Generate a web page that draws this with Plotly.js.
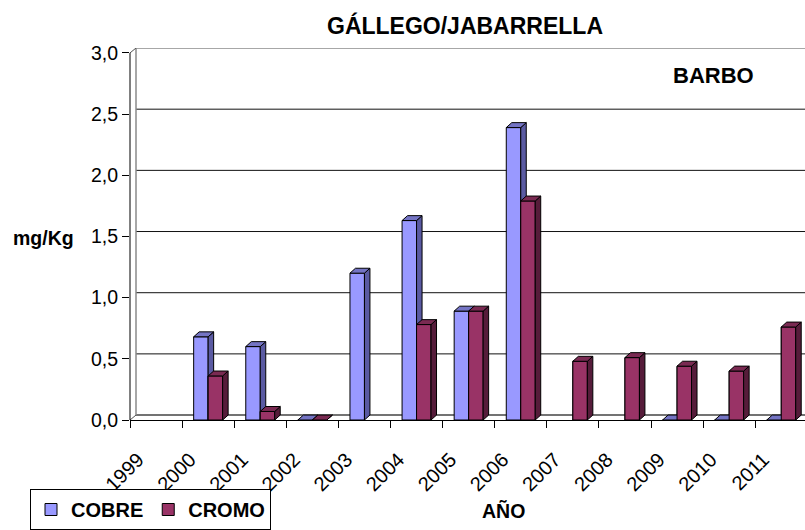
<!DOCTYPE html>
<html>
<head>
<meta charset="utf-8">
<script src="https://cdn.plot.ly/plotly-3.0.1.min.js"></script>
<style>html,body{margin:0;padding:0;background:#fff;}#chart{width:805px;height:530px;}</style>
</head>
<body>
<div id="chart"></div>
<script>
// ---- data ----
var years = ['1999','2000','2001','2002','2003','2004','2005','2006','2007','2008','2009','2010','2011'];
var cobre = [null, 0.68, 0.60, 0, 1.20, 1.63, 0.89, 2.39, null, null, 0, 0, 0];
var cromo = [null, 0.36, 0.07, 0, null, 0.78, 0.89, 1.79, 0.48, 0.51, 0.44, 0.40, 0.76];
var yTickVals = [0, 0.5, 1, 1.5, 2, 2.5, 3];
var yTickText = ['0,0', '0,5', '1,0', '1,5', '2,0', '2,5', '3,0'];

// ---- geometry / style ----
var W = 805, H = 530;
var L = 130, T = 48, B = 425;          // plot area pixels
var PW = W - L, PH = B - T;            // 675 x 377
var pxPerCat = 52.1;
var pxPerUnit = 124;
var xMax = -0.5 + PW / pxPerCat;
var yMax = PH / pxPerUnit;
var barW = 0.278;                      // category units
var dxPx = 5.5, dyPx = 5;              // 3-D depth offset
var dx = dxPx / pxPerCat, dy = dyPx / pxPerUnit;
var wallDx = 6, wallDy = 5;            // back wall offset (px)
var FONT = 'Liberation Sans, Arial, sans-serif';

var colors = {
  cobre: {front: '#9999FF', side: '#5A5AA2', top: '#7474C4'},
  cromo: {front: '#993366', side: '#561C3A', top: '#7A2A52'}
};

var idx = years.map(function (_, i) { return i; });

function facePaths(vals, offset) {
  var f = {front: {x: [], y: []}, side: {x: [], y: []}, top: {x: [], y: []}};
  vals.forEach(function (v, i) {
    if (v === null) return;
    var x0 = i + offset, x1 = x0 + barW;
    f.front.x.push(x0, x1, x1, x0, x0, null);
    f.front.y.push(0, 0, v, v, 0, null);
    f.side.x.push(x1, x1 + dx, x1 + dx, x1, x1, null);
    f.side.y.push(0, dy, v + dy, v, 0, null);
    f.top.x.push(x0, x0 + dx, x1 + dx, x1, x0, null);
    f.top.y.push(v, v + dy, v + dy, v, v, null);
  });
  return f;
}

function poly(p, color) {
  return {type: 'scatter', mode: 'lines', x: p.x, y: p.y, fill: 'toself', fillcolor: color,
    line: {color: '#000', width: 1}, hoverinfo: 'skip', showlegend: false, connectgaps: false};
}

var fc = facePaths(cobre, -barW);
var fr = facePaths(cromo, 0);

var traces = [
  {type: 'bar', name: 'COBRE', x: idx, y: cobre, offset: -barW, width: barW,
   marker: {color: colors.cobre.front, line: {color: '#000', width: 1}}, hoverinfo: 'skip'},
  {type: 'bar', name: 'CROMO', x: idx, y: cromo, offset: 0, width: barW,
   marker: {color: colors.cromo.front, line: {color: '#000', width: 1}}, hoverinfo: 'skip'},
  poly(fc.side, colors.cobre.side),
  poly(fc.top, colors.cobre.top),
  poly(fr.front, colors.cromo.front),
  poly(fr.side, colors.cromo.side),
  poly(fr.top, colors.cromo.top)
];

// ---- wall decorations (shapes) ----
function px2xp(px) { return (px - L) / PW; }
function px2yp(py) { return (B - py) / PH; }
var wallX0 = px2xp(L + wallDx);
var wallOffY = wallDy / pxPerUnit;
var shapes = [];
yTickVals.forEach(function (v) {
  if (v === 0 || v === 3) return;
  shapes.push({type: 'line', layer: 'below', xref: 'paper', yref: 'y', x0: wallX0, x1: 1.02,
    y0: v + wallOffY, y1: v + wallOffY, line: {color: '#111', width: 1}});
});
// top edge of back wall
shapes.push({type: 'line', layer: 'below', xref: 'paper', yref: 'y', x0: wallX0, x1: 1.02,
  y0: 3 + wallOffY, y1: 3 + wallOffY, line: {color: '#8a8a8a', width: 1.5}});
// back floor edge
shapes.push({type: 'line', layer: 'below', xref: 'paper', yref: 'y', x0: wallX0, x1: 1.02,
  y0: wallOffY, y1: wallOffY, line: {color: '#444', width: 1.5}});
// back wall left edge
shapes.push({type: 'line', layer: 'below', xref: 'paper', yref: 'y', x0: wallX0, x1: wallX0,
  y0: wallOffY, y1: 3 + wallOffY, line: {color: '#8a8a8a', width: 1.5}});
// diagonals
shapes.push({type: 'line', layer: 'below', xref: 'paper', yref: 'y', x0: 0, x1: wallX0,
  y0: 3, y1: 3 + wallOffY, line: {color: '#555', width: 1}});
shapes.push({type: 'line', layer: 'below', xref: 'paper', yref: 'y', x0: 0, x1: wallX0,
  y0: 0, y1: wallOffY, line: {color: '#555', width: 1}});
// front value axis line
shapes.push({type: 'line', layer: 'above', xref: 'paper', yref: 'y', x0: 0, x1: 0,
  y0: 0, y1: 3, line: {color: '#000', width: 1}});

var boundaries = [];
for (var k = 0; k <= years.length; k++) boundaries.push(k - 0.5);

var layout = {
  width: W, height: H,
  margin: {l: L, r: 0, t: T, b: H - B, pad: 0},
  paper_bgcolor: '#fff', plot_bgcolor: 'rgba(0,0,0,0)',
  font: {family: FONT, color: '#000'},
  barmode: 'overlay',
  showlegend: true,
  xaxis: {
    range: [-0.5, xMax], tickmode: 'array', tickvals: idx, ticktext: years,
    tickangle: -45, tickfont: {size: 20, family: FONT},
    ticks: 'outside', ticklen: 19, tickcolor: 'rgba(0,0,0,0)',
    ticklabelshift: -18,
    showgrid: false, zeroline: false,
    showline: true, linecolor: '#000', linewidth: 1,
    minor: {tickmode: 'array', tickvals: boundaries, ticks: 'outside', ticklen: 7, tickcolor: '#000', tickwidth: 1, showgrid: false},
    fixedrange: true
  },
  yaxis: {
    range: [0, yMax], tickmode: 'array', tickvals: yTickVals, ticktext: yTickText,
    ticks: 'outside', ticklen: 7, tickcolor: '#000', tickwidth: 1,
    tickfont: {size: 19.5, family: FONT}, showgrid: false, zeroline: false, showline: false,
    fixedrange: true
  },
  legend: {
    orientation: 'h', x: px2xp(30), xanchor: 'left', y: px2yp(495), yanchor: 'top',
    bordercolor: '#000', borderwidth: 1, bgcolor: '#fff',
    font: {size: 20, family: FONT, weight: 'bold'}, traceorder: 'normal'
  },
  shapes: shapes,
  annotations: [
    {text: '<b>GÁLLEGO/JABARRELLA</b>', xref: 'paper', yref: 'paper', x: px2xp(465), y: px2yp(25),
     xanchor: 'center', yanchor: 'middle', showarrow: false, font: {size: 23, family: FONT}},
    {text: '<b>BARBO</b>', xref: 'paper', yref: 'paper', x: px2xp(713), y: px2yp(76),
     xanchor: 'center', yanchor: 'middle', showarrow: false, font: {size: 22, family: FONT}},
    {text: '<b>mg/Kg</b>', xref: 'paper', yref: 'paper', x: px2xp(43), y: px2yp(241),
     xanchor: 'center', yanchor: 'middle', showarrow: false, font: {size: 19.5, family: FONT}},
    {text: '<b>AÑO</b>', xref: 'paper', yref: 'paper', x: px2xp(503), y: px2yp(517),
     xanchor: 'center', yanchor: 'middle', showarrow: false, font: {size: 19.5, family: FONT}}
  ]
};

Plotly.newPlot('chart', traces, layout, {displayModeBar: false, staticPlot: true});
</script>
</body>
</html>
